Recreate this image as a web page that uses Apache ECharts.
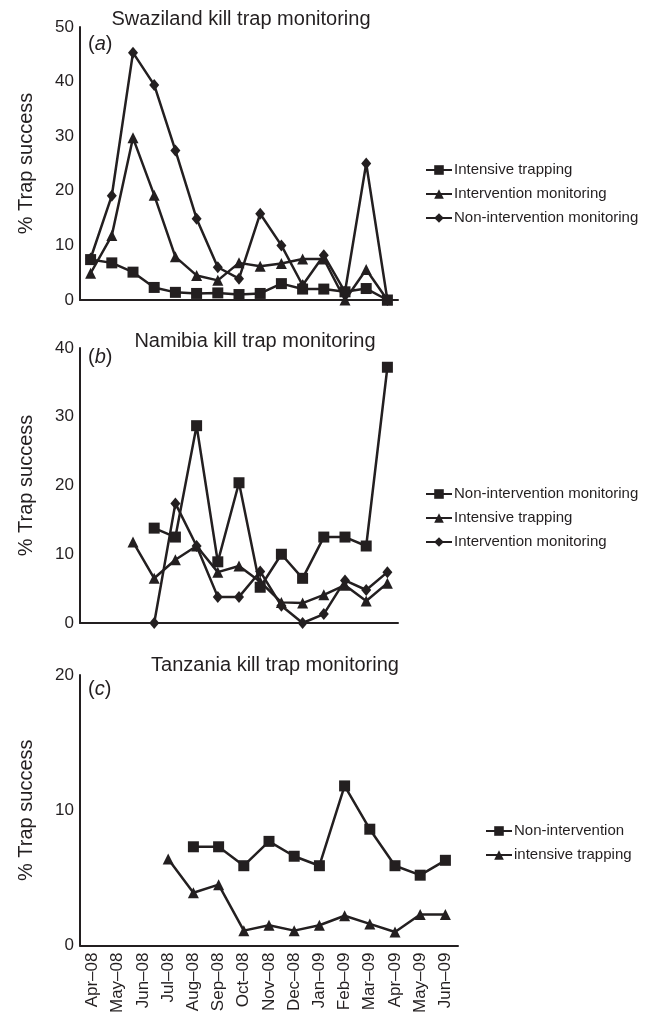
<!DOCTYPE html>
<html>
<head>
<meta charset="utf-8">
<script src="https://cdn.jsdelivr.net/npm/echarts@6/dist/echarts.min.js"></script>
<style>
  html, body { margin: 0; padding: 0; background: #fff; }
  #chart { width: 647px; height: 1016px; }
</style>
</head>
<body>
<div id="chart"></div>
<script>
const months = ['Apr–08', 'May–08', 'Jun–08', 'Jul–08', 'Aug–08', 'Sep–08', 'Oct–08',
  'Nov–08', 'Dec–08', 'Jan–09', 'Feb–09', 'Mar–09', 'Apr–09', 'May–09', 'Jun–09'];

// (a) Swaziland
const swzIntensive = [7.4, 6.8, 5.1, 2.3, 1.4, 1.2, 1.3, 1.0, 1.2, 3.0, 2.0, 2.0, 1.5, 2.1, 0];
const swzIntervention = [4.9, 11.8, 29.7, 19.2, 7.9, 4.5, 3.6, 6.8, 6.2, 6.7, 7.5, 7.5, 0, 5.6, 0];
const swzNonIntervention = [7.6, 19.1, 45.3, 39.4, 27.4, 14.9, 6.0, 3.9, 15.8, 10.0, 2.7, 8.2, 1.5, 25.0, 0];

// (b) Namibia
const namNonIntervention = [null, null, null, 13.8, 12.5, 28.7, 8.9, 20.4, 5.2, 10.0, 6.5, 12.5, 12.5, 11.2, 37.2];
const namIntensive = [null, null, 11.8, 6.5, 9.2, 11.2, 7.4, 8.3, 6.0, 3.0, 2.9, 4.1, 5.5, 3.2, 5.8];
const namIntervention = [null, null, null, 0, 17.4, 11.2, 3.8, 3.8, 7.5, 2.5, 0, 1.3, 6.2, 4.8, 7.4];

// (c) Tanzania
const tzNonIntervention = [null, null, null, null, 7.3, 7.3, 5.9, 7.7, 6.6, 5.9, 11.8, 8.6, 5.9, 5.2, 6.3];
const tzIntensive = [null, null, null, 6.4, 3.9, 4.5, 1.1, 1.5, 1.1, 1.5, 2.2, 1.6, 1.0, 2.3, 2.3];

const FONT = '"Liberation Sans", Arial, sans-serif';
const INK = '#231f20';

const SHAPES = {
  square: { symbol: 'rect', symbolSize: 11 },
  triangle: { symbol: 'triangle', symbolSize: 11 },
  diamond: { symbol: 'diamond', symbolSize: [10, 12] }
};

function mkSeries(name, idx, shape, data) {
  return {
    name: name,
    type: 'line',
    xAxisIndex: idx,
    yAxisIndex: idx,
    data: data,
    symbol: SHAPES[shape].symbol,
    symbolSize: SHAPES[shape].symbolSize,
    showAllSymbol: true,
    lineStyle: { color: INK, width: 2.5 },
    itemStyle: { color: INK },
    emphasis: { disabled: true },
    animation: false,
    z: 3
  };
}

function yAx(idx, max) {
  return {
    gridIndex: idx,
    type: 'value',
    min: 0,
    max: max,
    interval: 10,
    name: '% Trap success',
    nameLocation: 'middle',
    nameGap: 44,
    nameTextStyle: { fontFamily: FONT, fontSize: 20, color: INK },
    axisLine: { show: true, lineStyle: { color: INK, width: 2 } },
    axisTick: { show: false },
    splitLine: { show: false },
    axisLabel: { fontFamily: FONT, fontSize: 17, color: INK, margin: 6 }
  };
}

function xAx(idx, showLabels) {
  return {
    gridIndex: idx,
    type: 'category',
    data: months,
    boundaryGap: true,
    axisLine: { show: true, lineStyle: { color: INK, width: 2 } },
    axisTick: { show: false },
    splitLine: { show: false },
    axisLabel: {
      show: showLabels,
      rotate: 90,
      interval: 0,
      fontFamily: FONT,
      fontSize: 17,
      color: INK,
      margin: 7
    }
  };
}

function legendFor(names, left, top) {
  return {
    data: names,
    orient: 'vertical',
    left: left,
    top: top,
    itemWidth: 26,
    itemHeight: 12,
    itemGap: 8,
    selectedMode: false,
    formatter: n => n.split('|')[1],
    textStyle: { fontFamily: FONT, fontSize: 15, color: INK, lineHeight: 16, padding: [0, 0, 0, -3] }
  };
}

function panelTitle(text, centerX, top) {
  return {
    text: text,
    left: centerX,
    top: top,
    textAlign: 'center',
    padding: 0,
    textStyle: { fontFamily: FONT, fontSize: 20, fontWeight: 'normal', color: INK }
  };
}

function panelLabel(letter, y) {
  return {
    type: 'text',
    left: 88,
    top: y,
    style: {
      text: '{n|(}{i|' + letter + '}{n|)}',
      rich: {
        n: { fontFamily: FONT, fontSize: 20, fill: INK },
        i: { fontFamily: FONT, fontSize: 20, fontStyle: 'italic', fill: INK }
      }
    }
  };
}

const chart = echarts.init(document.getElementById('chart'));
chart.setOption({
  backgroundColor: '#fff',
  animation: false,
  title: [
    panelTitle('Swaziland kill trap monitoring', 241, 9),
    panelTitle('Namibia kill trap monitoring', 255, 331),
    panelTitle('Tanzania kill trap monitoring', 275, 655)
  ],
  graphic: [
    panelLabel('a', 34),
    panelLabel('b', 347),
    panelLabel('c', 679)
  ],
  legend: [
    legendFor(['a|Intensive trapping', 'a|Intervention monitoring', 'a|Non-intervention monitoring'], 420, 157),
    legendFor(['b|Non-intervention monitoring', 'b|Intensive trapping', 'b|Intervention monitoring'], 420, 481),
    legendFor(['c|Non-intervention', 'c|intensive trapping'], 480, 818)
  ],
  grid: [
    { left: 80, top: 27, width: 318, height: 273 },
    { left: 80, top: 348, width: 318, height: 275 },
    { left: 80, top: 675, width: 378, height: 273 }
  ],
  xAxis: [xAx(0, false), xAx(1, false), xAx(2, true)],
  yAxis: [yAx(0, 50), yAx(1, 40), yAx(2, 20)],
  series: [
    mkSeries('a|Intensive trapping', 0, 'square', swzIntensive),
    mkSeries('a|Intervention monitoring', 0, 'triangle', swzIntervention),
    mkSeries('a|Non-intervention monitoring', 0, 'diamond', swzNonIntervention),
    mkSeries('b|Non-intervention monitoring', 1, 'square', namNonIntervention),
    mkSeries('b|Intensive trapping', 1, 'triangle', namIntensive),
    mkSeries('b|Intervention monitoring', 1, 'diamond', namIntervention),
    mkSeries('c|Non-intervention', 2, 'square', tzNonIntervention),
    mkSeries('c|intensive trapping', 2, 'triangle', tzIntensive)
  ]
});
</script>
</body>
</html>
